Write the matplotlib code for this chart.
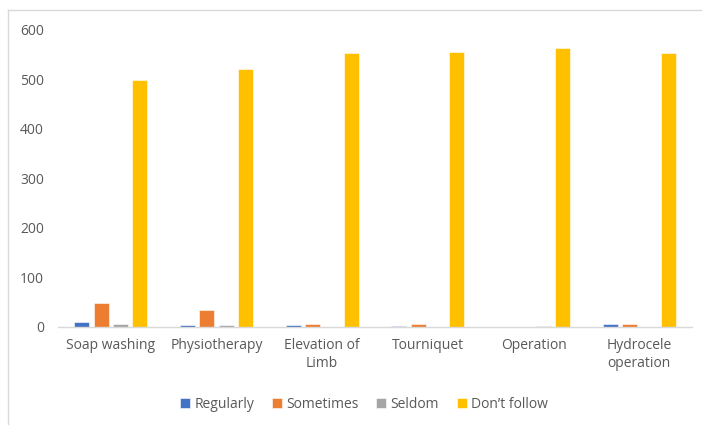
import matplotlib
matplotlib.use("Agg")
import matplotlib.pyplot as plt
from matplotlib.lines import Line2D
import numpy as np

categories = ["Soap washing", "Physiotherapy", "Elevation of\nLimb", "Tourniquet",
              "Operation", "Hydrocele\noperation"]
series_names = ["Regularly", "Sometimes", "Seldom", "Don\u2019t follow"]
regularly = [10, 5, 5, 3, 0, 7]
sometimes = [48, 34, 7, 7, 0, 7]
seldom = [6, 5, 0, 0, 3, 0]
dont_follow = [499, 520, 553, 555, 562, 553]
yticks = [0, 100, 200, 300, 400, 500, 600]

colors = ["#4472C4", "#ED7D31", "#A5A5A5", "#FFC000"]
text_color = "#595959"

plt.rcParams["font.family"] = ["Open Sans", "DejaVu Sans"]

fig = plt.figure(figsize=(7.02, 4.25), dpi=100)
ax = fig.add_axes([58 / 702, 1 - 327 / 425, 634 / 702, 297.5 / 425])

x = np.arange(len(categories))
width = 0.14
step = 0.183
all_series = [regularly, sometimes, seldom, dont_follow]
for i, (vals, name, c) in enumerate(zip(all_series, series_names, colors)):
    ax.bar(x + (i - 1.5) * step, vals, width, color=c, label=name,
           edgecolor="white", linewidth=0.4)

ax.set_xlim(-0.5, len(categories) - 0.5)
ax.set_ylim(0, 600)
ax.set_yticks(yticks)
ax.set_xticks(x)
ax.set_xticklabels(categories, fontsize=10, color=text_color, linespacing=1.25)
ax.tick_params(axis="y", labelsize=10, labelcolor=text_color, length=0, pad=10)
ax.tick_params(axis="x", length=0, pad=8)
for side in ["top", "right", "left"]:
    ax.spines[side].set_visible(False)
ax.spines["bottom"].set_color("#D9D9D9")
ax.spines["bottom"].set_linewidth(1.0)

leg = fig.legend(loc="center", bbox_to_anchor=(364 / 702, 1 - 404 / 425), ncol=4,
                 frameon=False, fontsize=10, handlelength=0.7, handleheight=0.7,
                 handletextpad=0.3, columnspacing=1.3)
for t in leg.get_texts():
    t.set_color(text_color)

# chart area border (left and top edges)
fig.add_artist(Line2D([8 / 702, 8 / 702], [0, 1 - 10 / 425], transform=fig.transFigure,
                      color="#D9D9D9", linewidth=1.0))
fig.add_artist(Line2D([8 / 702, 1], [1 - 10 / 425, 1 - 10 / 425], transform=fig.transFigure,
                      color="#D9D9D9", linewidth=1.0))

fig.savefig("out.png", dpi=100)
